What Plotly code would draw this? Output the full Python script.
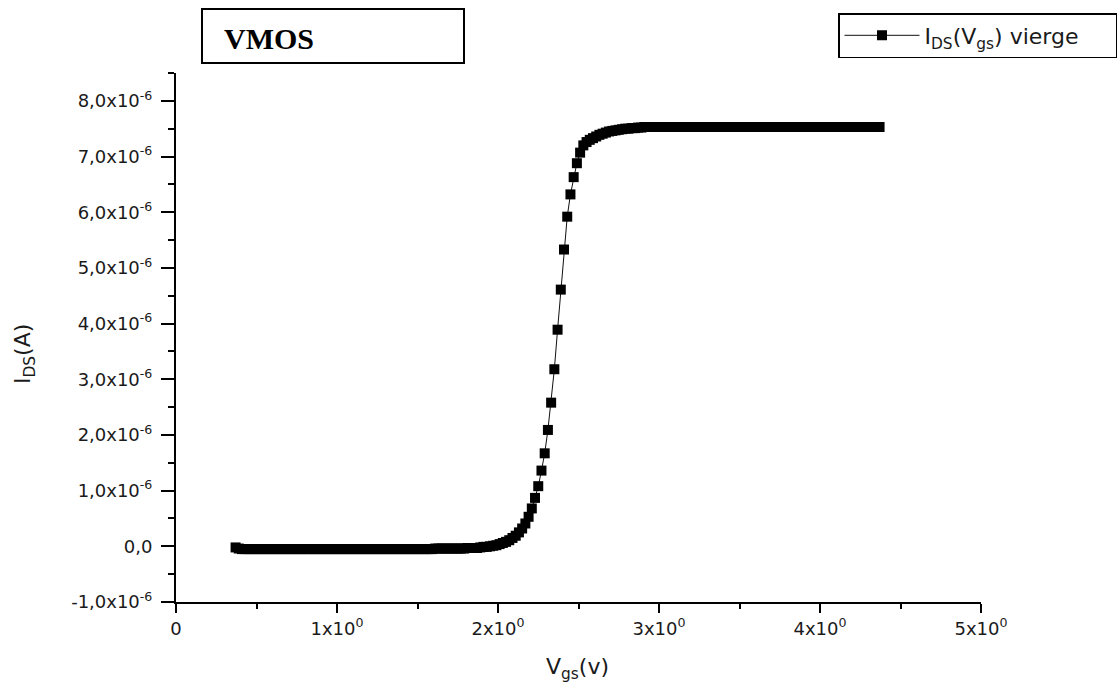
import plotly.graph_objects as go
import numpy as np

# ---------------- data ----------------
VGS = [
    0.37, 0.39, 0.41, 0.43, 0.45, 0.47, 0.49, 0.51, 0.53, 0.55,
    0.57, 0.59, 0.61, 0.63, 0.65, 0.67, 0.69, 0.71, 0.73, 0.75,
    0.77, 0.79, 0.81, 0.83, 0.85, 0.87, 0.89, 0.91, 0.93, 0.95,
    0.97, 0.99, 1.01, 1.03, 1.05, 1.07, 1.09, 1.11, 1.13, 1.15,
    1.17, 1.19, 1.21, 1.23, 1.25, 1.27, 1.29, 1.31, 1.33, 1.35,
    1.37, 1.39, 1.41, 1.43, 1.45, 1.47, 1.49, 1.51, 1.53, 1.55,
    1.57, 1.59, 1.61, 1.63, 1.65, 1.67, 1.69, 1.71, 1.73, 1.75,
    1.77, 1.79, 1.81, 1.83, 1.85, 1.87, 1.89, 1.91, 1.93, 1.95,
    1.97, 1.99, 2.01, 2.03, 2.05, 2.07, 2.09, 2.11, 2.13, 2.15,
    2.17, 2.19, 2.21, 2.23, 2.25, 2.27, 2.29, 2.31, 2.33, 2.35,
    2.37, 2.39, 2.41, 2.43, 2.45, 2.47, 2.49, 2.51, 2.53, 2.55,
    2.57, 2.59, 2.61, 2.63, 2.65, 2.67, 2.69, 2.71, 2.73, 2.75,
    2.77, 2.79, 2.81, 2.83, 2.85, 2.87, 2.89, 2.91, 2.93, 2.95,
    2.97, 2.99, 3.01, 3.03, 3.05, 3.07, 3.09, 3.11, 3.13, 3.15,
    3.17, 3.19, 3.21, 3.23, 3.25, 3.27, 3.29, 3.31, 3.33, 3.35,
    3.37, 3.39, 3.41, 3.43, 3.45, 3.47, 3.49, 3.51, 3.53, 3.55,
    3.57, 3.59, 3.61, 3.63, 3.65, 3.67, 3.69, 3.71, 3.73, 3.75,
    3.77, 3.79, 3.81, 3.83, 3.85, 3.87, 3.89, 3.91, 3.93, 3.95,
    3.97, 3.99, 4.01, 4.03, 4.05, 4.07, 4.09, 4.11, 4.13, 4.15,
    4.17, 4.19, 4.21, 4.23, 4.25, 4.27, 4.29, 4.31, 4.33, 4.35,
    4.37,
]

# drain current in units of 1e-6 A
IDS_uA = [
    -0.02, -0.04, -0.05, -0.05, -0.05, -0.05, -0.05, -0.05, -0.05, -0.05,
    -0.05, -0.05, -0.05, -0.05, -0.05, -0.05, -0.05, -0.05, -0.05, -0.05,
    -0.05, -0.05, -0.05, -0.05, -0.05, -0.05, -0.05, -0.05, -0.05, -0.05,
    -0.05, -0.05, -0.05, -0.05, -0.05, -0.05, -0.05, -0.05, -0.05, -0.05,
    -0.05, -0.05, -0.05, -0.05, -0.05, -0.05, -0.05, -0.05, -0.05, -0.05,
    -0.05, -0.05, -0.05, -0.05, -0.05, -0.05, -0.05, -0.05, -0.05, -0.05,
    -0.05, -0.05, -0.04, -0.04, -0.04, -0.04, -0.04, -0.04, -0.04, -0.04,
    -0.04, -0.04, -0.03, -0.03, -0.03, -0.03, -0.02, -0.01, -0.01, 0.00,
    0.01, 0.02, 0.04, 0.06, 0.08, 0.11, 0.15, 0.19, 0.25, 0.32,
    0.41, 0.53, 0.68, 0.87, 1.08, 1.36, 1.67, 2.09, 2.58, 3.18,
    3.89, 4.61, 5.33, 5.92, 6.32, 6.63, 6.88, 7.07, 7.20, 7.26,
    7.30, 7.33, 7.36, 7.39, 7.41, 7.43, 7.45, 7.46, 7.47, 7.48,
    7.49, 7.50, 7.50, 7.51, 7.51, 7.52, 7.52, 7.53, 7.53, 7.53,
    7.53, 7.53, 7.53, 7.53, 7.53, 7.53, 7.53, 7.53, 7.53, 7.53,
    7.53, 7.53, 7.53, 7.53, 7.53, 7.53, 7.53, 7.53, 7.53, 7.53,
    7.53, 7.53, 7.53, 7.53, 7.53, 7.53, 7.53, 7.53, 7.53, 7.53,
    7.53, 7.53, 7.53, 7.53, 7.53, 7.53, 7.53, 7.53, 7.53, 7.53,
    7.53, 7.53, 7.53, 7.53, 7.53, 7.53, 7.53, 7.53, 7.53, 7.53,
    7.53, 7.53, 7.53, 7.53, 7.53, 7.53, 7.53, 7.53, 7.53, 7.53,
    7.53, 7.53, 7.53, 7.53, 7.53, 7.53, 7.53, 7.53, 7.53, 7.53,
    7.53,
]

X_TICK_VALS = [0, 1, 2, 3, 4, 5]
X_TICK_TEXT = ["0", "1x10<sup>0</sup>", "2x10<sup>0</sup>", "3x10<sup>0</sup>",
               "4x10<sup>0</sup>", "5x10<sup>0</sup>"]
Y_TICK_VALS_uA = [-1, 0, 1, 2, 3, 4, 5, 6, 7, 8]
Y_TICK_TEXT = ["-1,0x10<sup>-6</sup>", "0,0", "1,0x10<sup>-6</sup>", "2,0x10<sup>-6</sup>",
               "3,0x10<sup>-6</sup>", "4,0x10<sup>-6</sup>", "5,0x10<sup>-6</sup>",
               "6,0x10<sup>-6</sup>", "7,0x10<sup>-6</sup>", "8,0x10<sup>-6</sup>"]
SERIES_NAME = "I<sub>DS</sub>(V<sub>gs</sub>) vierge"
X_TITLE = "V<sub>gs</sub>(v)"
Y_TITLE = "I<sub>DS</sub>(A)"
BOX_TEXT = "<b>VMOS</b>"

# ---------------- layout geometry ----------------
W, H = 1120, 691
L, R, T, B = 176, 139, 73, 89
PW, PH = W - L - R, H - T - B


def px(x):
    return (x - L) / PW


def py(y):
    return (H - B - y) / PH


ids = np.array(IDS_uA) * 1e-6
y_tickvals = [v * 1e-6 for v in Y_TICK_VALS_uA]

FONT = "DejaVu Sans"
TXT = "#1a1a1a"

fig = go.Figure()
fig.add_trace(go.Scatter(
    x=VGS, y=ids, mode="lines+markers", name=SERIES_NAME,
    line=dict(color="#111111", width=1),
    marker=dict(symbol="square", size=10, color="black", line=dict(width=0)),
    showlegend=True,
))

fig.update_layout(
    width=W, height=H, autosize=False,
    margin=dict(l=L, r=R, t=T, b=B, pad=0, autoexpand=False),
    paper_bgcolor="white", plot_bgcolor="white",
    font=dict(family=FONT, color=TXT, size=18),
    showlegend=True,
    legend=dict(
        orientation="h",
        x=px(1117), y=py(13), xanchor="right", yanchor="top",
        bordercolor="black", borderwidth=1.5, bgcolor="white",
        font=dict(family=FONT, size=22, color=TXT),
        itemwidth=75, entrywidth=186, entrywidthmode="pixels",
    ),
    xaxis=dict(
        range=[0, 5], showgrid=False, zeroline=False,
        showline=True, linecolor="black", linewidth=2, mirror=False,
        ticks="outside", ticklen=9, tickwidth=2, tickcolor="black",
        tickmode="array", tickvals=X_TICK_VALS, ticktext=X_TICK_TEXT,
        tickfont=dict(family=FONT, size=18, color=TXT),
        minor=dict(ticks="outside", ticklen=5, tickwidth=1.5, tickcolor="black",
                   tickmode="linear", tick0=0, dtick=0.5),
    ),
    yaxis=dict(
        range=[-1e-6, 8.5e-6], showgrid=False, zeroline=False,
        showline=True, linecolor="black", linewidth=2, mirror=False,
        ticks="outside", ticklen=13, tickwidth=2, tickcolor="black",
        tickmode="array", tickvals=y_tickvals, ticktext=Y_TICK_TEXT,
        tickfont=dict(family=FONT, size=18, color=TXT),
        ticklabelstandoff=5,
        minor=dict(ticks="outside", ticklen=6, tickwidth=1.5, tickcolor="black",
                   tickmode="linear", tick0=0, dtick=0.5e-6),
    ),
)

# axis titles
fig.add_annotation(text=X_TITLE, xref="paper", yref="paper",
                   x=px(577), y=py(668), xanchor="center", yanchor="middle",
                   showarrow=False, font=dict(family=FONT, size=22, color=TXT))
fig.add_annotation(text=Y_TITLE, xref="paper", yref="paper", textangle=-90,
                   x=px(24), y=py(354), xanchor="center", yanchor="middle",
                   showarrow=False, font=dict(family=FONT, size=22, color=TXT))

# VMOS label box
fig.add_shape(type="rect", xref="paper", yref="paper",
              x0=px(202), x1=px(464), y0=py(63), y1=py(9),
              line=dict(color="black", width=2), fillcolor="white")
fig.add_annotation(text=BOX_TEXT, xref="paper", yref="paper",
                   x=px(222), y=py(38), xanchor="left", yanchor="middle",
                   showarrow=False,
                   font=dict(family="Liberation Serif", size=30, color="black"))

fig.write_html("out.html")
